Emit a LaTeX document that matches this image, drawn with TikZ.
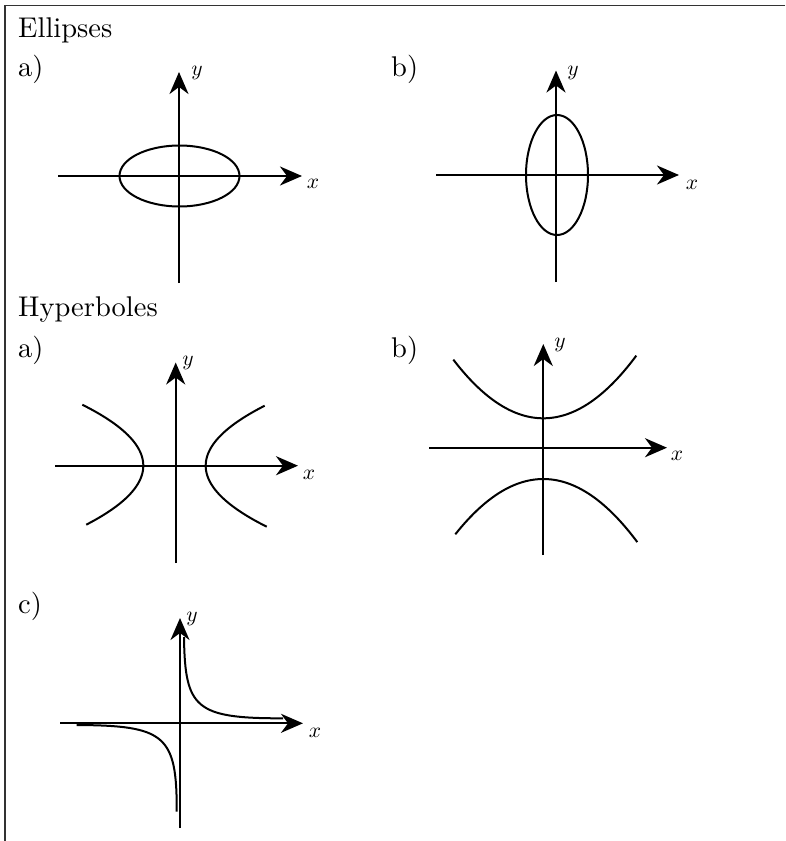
\documentclass[tikz,border=0pt]{standalone}
\usepackage{graphicx}
\usetikzlibrary{arrows.meta}
\newcommand{\bigtxt}[1]{\scalebox{2.85}{#1}}
\newcommand{\axtxt}[1]{\scalebox{2.15}{#1}}
\begin{document}
\begin{tikzpicture}[x=1pt,y=-1pt,
  axis/.style={line width=2.3pt, -{Stealth[length=22pt,width=19pt,inset=7pt]}},
  curve/.style={line width=2pt},
  lbl/.style={inner sep=0pt, font=\fontsize{10}{12}\selectfont, anchor=base west},
  axlbl/.style={inner sep=0pt, font=\fontsize{10}{12}\selectfont},
  frame/.style={line width=1.8pt, black!80}
]
\useasboundingbox (0,0) rectangle (785,841);
% frame
\coordinate (tl) at (5,5.5);
\coordinate (tr) at (785,5.5);
\coordinate (bl) at (5,841);
\draw[frame] (tr) -- (tl) -- (bl);

% headings
\node[lbl] (hEll) at (18,37) {\bigtxt{Ellipses}};
\node[lbl] (hEa) at (18,76) {\bigtxt{a)}};
\node[lbl] (hEb) at (391,76) {\bigtxt{b)}};
\node[lbl] (hHyp) at (18,316) {\bigtxt{Hyperboles}};
\node[lbl] (hHa) at (18,357) {\bigtxt{a)}};
\node[lbl] (hHb) at (391,357) {\bigtxt{b)}};
\node[lbl] (hHc) at (18,613) {\bigtxt{c)}};

% ---------- Ellipse a ----------
\coordinate (eaX0) at (58,176);   \coordinate (eaX1) at (302,176);
\coordinate (eaY0) at (179,283);  \coordinate (eaY1) at (179,72);
\draw[axis] (eaX0) -- (eaX1);
\draw[axis] (eaY0) -- (eaY1);
\draw[curve] (179.5,176) ellipse [x radius=60, y radius=30.5];
\node[axlbl] (eay) at (197,73) {\axtxt{$y$}};
\node[axlbl] (eax) at (313,184) {\axtxt{$x$}};

% ---------- Ellipse b ----------
\coordinate (ebX0) at (436,175);  \coordinate (ebX1) at (679,175);
\coordinate (ebY0) at (556,282);  \coordinate (ebY1) at (556,70.5);
\draw[axis] (ebX0) -- (ebX1);
\draw[axis] (ebY0) -- (ebY1);
\draw[curve] (557,175) ellipse [x radius=31, y radius=60];
\node[axlbl] (eby) at (573,73) {\axtxt{$y$}};
\node[axlbl] (ebx) at (692,185) {\axtxt{$x$}};

% ---------- Hyperbola a ----------
\coordinate (haX0) at (55,465.7);  \coordinate (haX1) at (298,465.7);
\coordinate (haY0) at (175.7,563); \coordinate (haY1) at (175.7,362.5);
\draw[axis] (haX0) -- (haX1);
\draw[axis] (haY0) -- (haY1);
\begin{scope}[shift={(143.3,465.7)}]
  \draw[curve] plot[smooth,domain=-61:59,samples=60] ({-\x*\x/61},{\x});
\end{scope}
\begin{scope}[shift={(205.7,465.7)}]
  \draw[curve] plot[smooth,domain=-60:61,samples=60] ({\x*\x/61},{\x});
\end{scope}
\node[axlbl] (hay) at (188,363) {\axtxt{$y$}};
\node[axlbl] (hax) at (309,475) {\axtxt{$x$}};

% ---------- Hyperbola b ----------
\coordinate (hbX0) at (429,447.7); \coordinate (hbX1) at (667,447.7);
\coordinate (hbY0) at (543.3,555); \coordinate (hbY1) at (543.3,344);
\draw[axis] (hbX0) -- (hbX1);
\draw[axis] (hbY0) -- (hbY1);
\begin{scope}[shift={(543.3,418.3)}]
  \draw[curve] plot[smooth,domain=-90:93,samples=60] ({\x},{-\x*\x/138});
\end{scope}
\begin{scope}[shift={(543.3,479)}]
  \draw[curve] plot[smooth,domain=-88:94,samples=60] ({\x},{\x*\x/140});
\end{scope}
\node[axlbl] (hby) at (560,345) {\axtxt{$y$}};
\node[axlbl] (hbx) at (677,456) {\axtxt{$x$}};

% ---------- Hyperbola c ----------
\coordinate (hcX0) at (60,723.3);  \coordinate (hcX1) at (303,723.3);
\coordinate (hcY0) at (180,828);   \coordinate (hcY1) at (180,618);
\draw[axis] (hcX0) -- (hcX1);
\draw[axis] (hcY0) -- (hcY1);
\coordinate (cu0) at (184,637);
\coordinate (cu1) at (283,718.3);
\coordinate (cl0) at (76.7,725);
\coordinate (cl1) at (176.7,811.7);
\draw[curve] (cu0) .. controls (185,708) and (195,718.5) .. (cu1);
\draw[curve] (cl0) .. controls (165,725.5) and (177,735) .. (cl1);
\node[axlbl] (hcy) at (192,619) {\axtxt{$y$}};
\node[axlbl] (hcx) at (315,733) {\axtxt{$x$}};
\end{tikzpicture}
\end{document}
